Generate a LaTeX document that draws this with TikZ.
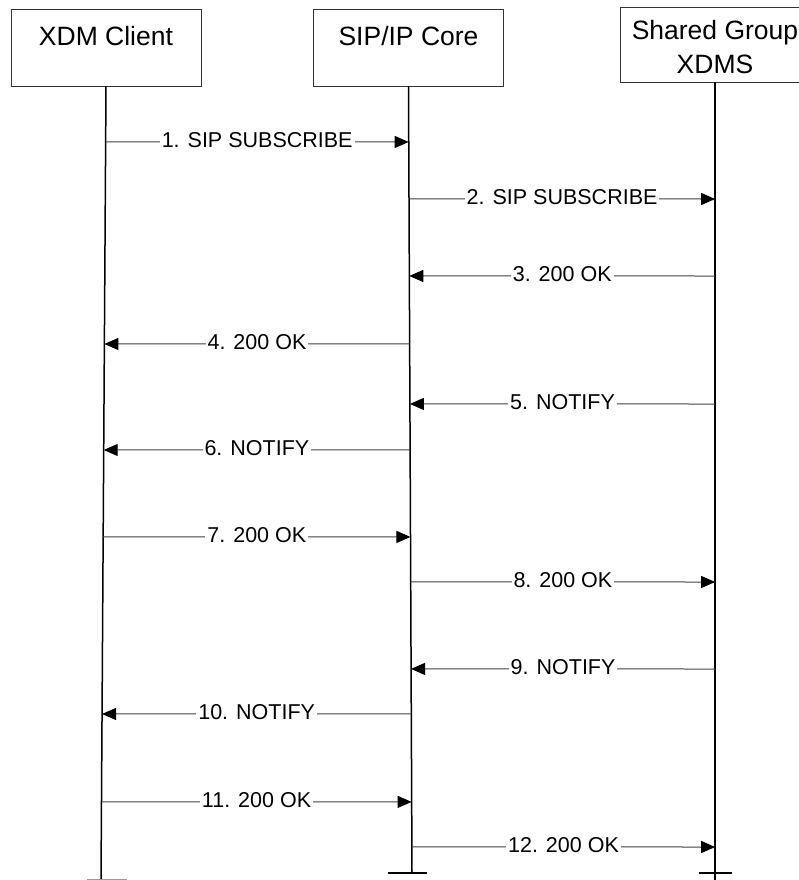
\documentclass[tikz,border=0pt]{standalone}
\usepackage{fontspec}
\setmainfont{Liberation Sans}
\usetikzlibrary{arrows.meta,calc}

\tikzset{
  actor/.style={draw=black!80, line width=0.9pt, minimum width=190pt, minimum height=77pt, inner sep=0pt},
  actortext/.style={anchor=north, inner sep=0pt, align=center, font=\fontsize{26.5}{34}\selectfont},
  lifeline/.style={draw=black, line width=1.5pt},
  msg/.style={draw=black!75, line width=1pt, -{Triangle[length=14pt,width=12pt,color=black]}},
  msglabel/.style={fill=white, inner xsep=2pt, inner ysep=1pt, yshift=2pt, font=\fontsize{21.5}{24}\selectfont}
}

\begin{document}
\begin{tikzpicture}[x=1pt,y=-1pt]
  \useasboundingbox (0,0) rectangle (798,880);

  % Draw the boxes of the three entities
  \node[actor] (client) at (106,47.5) {};
  \node[actor] (core) at (408.5,47.5) {};
  \node[actor, minimum height=75pt] (xdms) at (715,44.5) {};

  % Draw the names inside the boxes
  \node[actortext] at ($(client.north)+(0,17.2)$) {XDM Client};
  \node[actortext] at ($(core.north)+(0,17.2)$) {SIP/IP Core};
  \node[actortext] at ($(xdms.north)+(0,14)$) {Shared Group\\XDMS};

  % Draw the lifelines
  \coordinate (clientTop) at (client.south);
  \coordinate (coreTop) at (core.south);
  \coordinate (xdmsTop) at (xdms.south);
  \coordinate (clientEnd) at (101,880);
  \coordinate (coreEnd) at (412,873);
  \coordinate (xdmsEnd) at (715,880);
  \draw[lifeline] (clientTop) -- (clientEnd);
  \draw[lifeline] (coreTop) -- (coreEnd);
  \draw[lifeline] (xdmsTop) -- (xdmsEnd);

  % Draw the end bars
  \draw[lifeline, black!40] ($(clientEnd)+(-14,0)$) -- ($(clientEnd)+(26,0)$);
  \draw[lifeline] ($(coreEnd)+(-24,0)$) -- ($(coreEnd)+(15,0)$);
  \draw[lifeline] ($(xdmsEnd)+(-16,-7)$) -- ($(xdmsEnd)+(17,-7)$);

  % Points of the messages on the lifelines
  \foreach \y [count=\i] in {142,199,276,344,404,450,537,582,669,714,802,847}{
    \coordinate (c\i) at (intersection of clientTop--clientEnd and 0,\y--10,\y);
    \coordinate (s\i) at (intersection of coreTop--coreEnd and 0,\y--10,\y);
    \coordinate (x\i) at (intersection of xdmsTop--xdmsEnd and 0,\y--10,\y);
  }

  % Draw the messages
  \draw[msg] (c1) -- node[msglabel] {1. SIP SUBSCRIBE} (s1);
  \draw[msg] (s2) -- node[msglabel] {2. SIP SUBSCRIBE} (x2);
  \draw[msg] (x3) -- node[msglabel] {3. 200 OK} (s3);
  \draw[msg] (s4) -- node[msglabel] {4. 200 OK} (c4);
  \draw[msg] (x5) -- node[msglabel] {5. NOTIFY} (s5);
  \draw[msg] (s6) -- node[msglabel] {6. NOTIFY} (c6);
  \draw[msg] (c7) -- node[msglabel] {7. 200 OK} (s7);
  \draw[msg] (s8) -- node[msglabel] {8. 200 OK} (x8);
  \draw[msg] (x9) -- node[msglabel] {9. NOTIFY} (s9);
  \draw[msg] (s10) -- node[msglabel] {10. NOTIFY} (c10);
  \draw[msg] (c11) -- node[msglabel] {11. 200 OK} (s11);
  \draw[msg] (s12) -- node[msglabel] {12. 200 OK} (x12);

\end{tikzpicture}
\end{document}
